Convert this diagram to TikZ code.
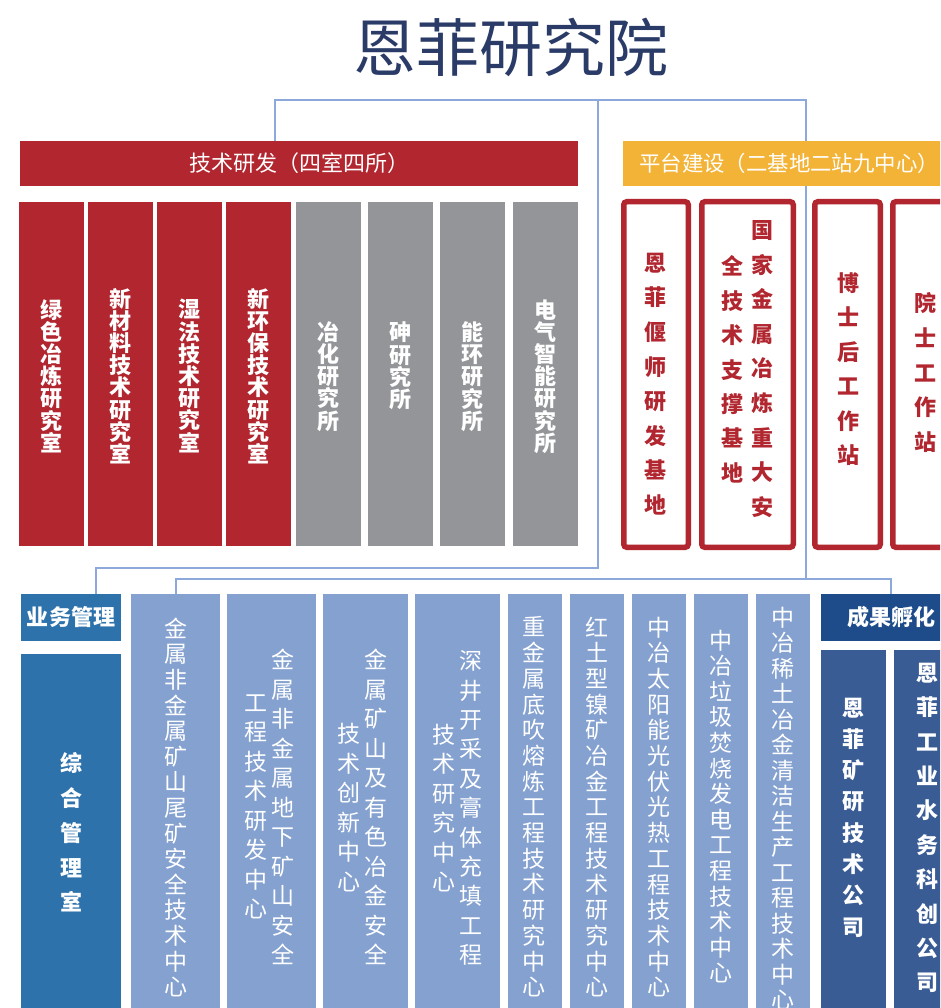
\documentclass[tikz,border=0pt]{standalone}
\usepackage{fontspec}
\setmainfont{Noto Sans CJK SC}
\usetikzlibrary{fit}
\definecolor{cRed}{HTML}{B1262F}
\definecolor{cGray}{HTML}{939598}
\definecolor{cYel}{HTML}{F3B337}
\definecolor{cLight}{HTML}{84A1D0}
\definecolor{cBiz}{HTML}{2E72AC}
\definecolor{cInc}{HTML}{1E4C8B}
\definecolor{cCo}{HTML}{395C95}
\definecolor{cLine}{HTML}{8DA9DB}
\definecolor{cTitle}{HTML}{2B3B68}
\newcommand\vtext[2]{\vbox{\hsize=0pt\parindent=0pt\baselineskip=#1pt\lineskip=0pt\lineskiplimit=-200pt\vtextA#2\relax}}
\def\vtextA#1{\ifx#1\relax\else\hbox to 0pt{\hss#1\hss}\expandafter\vtextA\fi}
\newcommand\bx[6]{\node[#6, fit={(#2,#3) (#4,#5)}, inner sep=0pt] (#1) {};}
\tikzset{
  conn/.style={draw=cLine, line width=2pt},
  redfill/.style={fill=cRed},
  grayfill/.style={fill=cGray},
  lightfill/.style={fill=cLight},
  vbold/.style={inner sep=0pt, text=white, font=\bfseries\fontsize{22}{22}\selectfont},
  vred/.style={inner sep=0pt, text=cRed, font=\bfseries\fontsize{22}{22}\selectfont},
  vlight/.style={inner sep=0pt, text=white, font=\fontsize{23}{23}\selectfont},
  outl/.style={draw=cRed, line width=5.5pt, rounded corners=3pt, fill=white},
}
\begin{document}
\begin{tikzpicture}[x=1pt, y=-1pt]
\clip (0,0) rectangle (940,1008);
\fill[white] (0,0) rectangle (940,1008);
% title
\node[inner sep=0pt, text=cTitle, font=\fontsize{63}{63}\selectfont] (title) at (511,47) {恩菲研究院};
% junction coordinates
\coordinate (tL) at (275,100);
\coordinate (tM) at (598,100);
\coordinate (tR) at (806,100);
\coordinate (jM) at (598,568);
\coordinate (bL) at (96,568);
\coordinate (jR) at (806,579);
% boxes needed by connectors
\bx{tech}{20}{141}{578}{186}{fill=cRed}
\bx{biz}{21}{594}{121}{641}{fill=cBiz}
\bx{inc}{821}{594}{961}{641}{fill=cInc}
\bx{c1}{131}{594}{220}{1020}{lightfill}
% connectors
\draw[conn] (tL |- tech.north) -- (tL) -- (tR) -- (jR);
\draw[conn] (tM) -- (jM) -- (bL) -- (bL |- biz.north);
\draw[conn] (c1.north) |- (inc.north |- jR) -- (inc.north);
% bars (drawn over the lines)
\bx{techb}{20}{141}{578}{186}{fill=cRed}
\bx{plat}{623}{141}{965}{186}{fill=cYel}
\node[inner sep=0pt, text=white, font=\fontsize{22}{22}\selectfont] (techT) at (techb.center) {技术研发（四室四所）};
\node[inner sep=0pt, anchor=west, text=white, font=\fontsize{21.4}{22}\selectfont] (platT) at (639,163.5) {平台建设（二基地二站九中心）};
% red and gray columns
\bx{r1}{19}{202}{84}{546}{redfill}
\bx{r2}{88}{202}{153}{546}{redfill}
\bx{r3}{157}{202}{222}{546}{redfill}
\bx{r4}{226}{202}{291}{546}{redfill}
\bx{g1}{296}{202}{361}{546}{grayfill}
\bx{g2}{368}{202}{433}{546}{grayfill}
\bx{g3}{440}{202}{505}{546}{grayfill}
\bx{g4}{513}{202}{578}{546}{grayfill}
\node[vbold] (r1t) at (51.5,376) {\vtext{22.2}{绿色冶炼研究室}};
\node[vbold] (r2t) at (120.5,376) {\vtext{22.2}{新材料技术研究室}};
\node[vbold] (r3t) at (189.5,376) {\vtext{22.2}{湿法技术研究室}};
\node[vbold] (r4t) at (258.5,376) {\vtext{22.2}{新环保技术研究室}};
\node[vbold] (g1t) at (328.5,376.5) {\vtext{22.2}{冶化研究所}};
\node[vbold] (g2t) at (400.5,366) {\vtext{22.2}{砷研究所}};
\node[vbold] (g3t) at (472.5,376.5) {\vtext{22.2}{能环研究所}};
\node[vbold] (g4t) at (545.5,376.5) {\vtext{22.2}{电气智能研究所}};
% outlined platform boxes
\draw[outl] (623.75,201.75) rectangle (688.25,547.25);
\draw[outl] (701.75,201.75) rectangle (793.25,547.25);
\draw[outl] (814.75,201.75) rectangle (880.25,547.25);
\draw[outl] (892.75,201.75) rectangle (975,547.25);
\node[vred] (o1t) at (655,384) {\vtext{34.6}{恩菲偃师研发基地}};
\node[vred] (o2r) at (762,369) {\vtext{34.6}{国家金属冶炼重大安}};
\node[vred] (o2l) at (732,369.5) {\vtext{34.4}{全技术支撑基地}};
\node[vred] (o3t) at (848,369) {\vtext{34.4}{博士后工作站}};
\node[vred] (o4t) at (925,372.5) {\vtext{34.6}{院士工作站}};
% bottom area
\node[inner sep=0pt, text=white, font=\bfseries\fontsize{22}{22}\selectfont] (bizT) at (biz.center) {业务管理};
\bx{zh}{21}{654}{121}{1020}{fill=cBiz}
\node[vbold] (zhT) at (71,832.5) {\vtext{34.8}{综合管理室}};
\bx{c2}{227}{594}{316}{1020}{lightfill}
\bx{c3}{323}{594}{408}{1020}{lightfill}
\bx{c4}{415}{594}{500}{1020}{lightfill}
\bx{c5}{508}{594}{562}{1020}{lightfill}
\bx{c6}{570}{594}{624}{1020}{lightfill}
\bx{c7}{632}{594}{686}{1020}{lightfill}
\bx{c8}{694}{594}{748}{1020}{lightfill}
\bx{c9}{756}{594}{810}{1020}{lightfill}
\node[vlight] (c1t) at (175.5,807.5) {\vtext{25.6}{金属非金属矿山尾矿安全技术中心}};
\node[vlight] (c2r) at (283,807) {\vtext{29.5}{金属非金属地下矿山安全}};
\node[vlight] (c2l) at (256,807) {\vtext{29.5}{工程技术研发中心}};
\node[vlight] (c3r) at (376,807) {\vtext{29.5}{金属矿山及有色冶金安全}};
\node[vlight] (c3l) at (349,807.5) {\vtext{29.5}{技术创新中心}};
\node[vlight] (c4r) at (471,808) {\vtext{29.4}{深井开采及膏体充填工程}};
\node[vlight] (c4l) at (444,808) {\vtext{29.4}{技术研究中心}};
\node[vlight] (c5t) at (534,807) {\vtext{25.7}{重金属底吹熔炼工程技术研究中心}};
\node[vlight] (c6t) at (597,807) {\vtext{25.7}{红土型镍矿冶金工程技术研究中心}};
\node[vlight] (c7t) at (659,807) {\vtext{25.7}{中冶太阳能光伏光热工程技术中心}};
\node[vlight] (c8t) at (721,806.5) {\vtext{25.6}{中冶垃圾焚烧发电工程技术中心}};
\node[vlight] (c9t) at (783,808.5) {\vtext{25.5}{中冶稀土冶金清洁生产工程技术中心}};
\node[inner sep=0pt, text=white, font=\bfseries\fontsize{22}{22}\selectfont] (incT) at (inc.center) {成果孵化};
\bx{k1}{821}{650}{886}{1020}{fill=cCo}
\bx{k2}{894}{650}{960}{1020}{fill=cCo}
\node[vbold] (k1t) at (853,817.5) {\vtext{31.3}{恩菲矿研技术公司}};
\node[vbold] (k2t) at (927.6,828) {\vtext{34.4}{恩菲工业水务科创公司}};
\end{tikzpicture}
\end{document}
